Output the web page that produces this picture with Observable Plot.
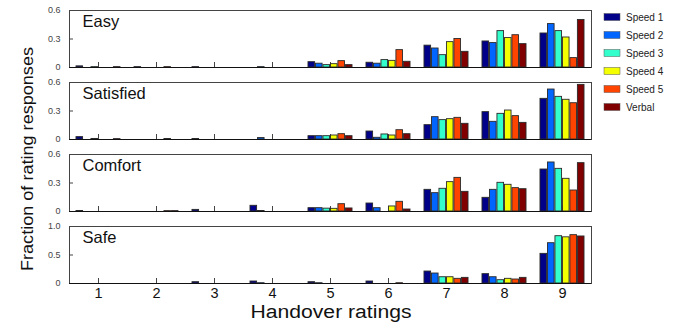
<!DOCTYPE html>
<html><head><meta charset="utf-8">
<script src="https://cdn.jsdelivr.net/npm/d3@7"></script>
<script src="https://cdn.jsdelivr.net/npm/@observablehq/plot@0.6"></script>
<style>
body{margin:0;background:#fff;}
#chart{position:relative;width:681px;height:326px;font-family:"Liberation Sans",Arial,sans-serif;overflow:hidden;}
#chart svg{position:absolute;left:0;}
</style></head><body><div id="chart"></div>
<script>
const ratings = [1, 2, 3, 4, 5, 6, 7, 8, 9];
const series = ["Speed 1", "Speed 2", "Speed 3", "Speed 4", "Speed 5", "Verbal"];
const colors = ["#000088", "#0066ff", "#33ffcc", "#f4ff00", "#ff4400", "#800000"];
const panelNames = ["Easy", "Satisfied", "Comfort", "Safe"];

// each row: one rating (1..9), values for Speed 1..5, Verbal
const easy = [
  [0.012, 0, 0.004, 0, 0, 0.004],
  [0.004, 0, 0, 0, 0.004, 0],
  [0.004, 0, 0, 0, 0, 0],
  [0, 0.004, 0, 0, 0, 0],
  [0.056, 0.04, 0.025, 0.035, 0.067, 0.025],
  [0.05, 0.04, 0.078, 0.07, 0.183, 0.06],
  [0.23, 0.2, 0.13, 0.267, 0.30, 0.165],
  [0.274, 0.257, 0.383, 0.31, 0.34, 0.246],
  [0.358, 0.457, 0.383, 0.316, 0.099, 0.50]
];
const satisfied = [
  [0.025, 0, 0.006, 0, 0, 0.004],
  [0, 0, 0, 0, 0.005, 0],
  [0.005, 0, 0, 0, 0, 0],
  [0, 0.015, 0, 0, 0, 0],
  [0.035, 0.035, 0.035, 0.042, 0.056, 0.035],
  [0.084, 0.018, 0.053, 0.042, 0.098, 0.056],
  [0.151, 0.235, 0.204, 0.214, 0.228, 0.165],
  [0.288, 0.186, 0.27, 0.305, 0.246, 0.175],
  [0.428, 0.526, 0.449, 0.418, 0.382, 0.575]
];
const comfort = [
  [0.005, 0, 0, 0, 0, 0],
  [0, 0, 0, 0, 0.004, 0.004],
  [0.017, 0, 0, 0, 0, 0],
  [0.06, 0.005, 0, 0, 0, 0],
  [0.035, 0.035, 0.03, 0.028, 0.077, 0.032],
  [0.084, 0.035, 0, 0.053, 0.102, 0.021],
  [0.228, 0.193, 0.239, 0.309, 0.354, 0.207],
  [0.144, 0.228, 0.302, 0.281, 0.246, 0.235],
  [0.442, 0.516, 0.449, 0.344, 0.221, 0.509]
];
const safe = [
  [0, 0, 0, 0, 0, 0],
  [0, 0, 0, 0, 0, 0],
  [0.023, 0, 0, 0, 0, 0],
  [0.035, 0.005, 0, 0, 0, 0],
  [0.023, 0.005, 0, 0, 0, 0],
  [0.035, 0, 0, 0, 0.005, 0],
  [0.21, 0.175, 0.11, 0.11, 0.082, 0.099],
  [0.164, 0.11, 0.058, 0.082, 0.07, 0.099],
  [0.52, 0.707, 0.83, 0.81, 0.848, 0.825]
];
const panelData = [easy, satisfied, comfort, safe];
const yMax = [0.6, 0.6, 0.6, 1.0];
const yTicks = [[0, 0.3, 0.6], [0, 0.3, 0.6], [0, 0.3, 0.6], [0, 0.5, 1.0]];
const yTickLabels = [["0", "0.3", "0.6"], ["0", "0.3", "0.6"], ["0", "0.3", "0.6"], ["0", "0.5", "1.0"]];
const xTitle = "Handover ratings";
const yTitle = "Fraction of rating responses";

const chart = document.getElementById("chart");
const panelH = 57, panelStep = 72, firstTop = 10;
const slot = 0.129, half = 0.057;

panelData.forEach((vals, p) => {
  const rows = [];
  vals.forEach((grp, gi) => grp.forEach((v, si) => {
    if (v > 0) rows.push({rating: ratings[gi], series: series[si], si, value: v});
  }));
  const last = p === panelData.length - 1;
  const mt = 2, mb = last ? 24 : 2;
  const fmt = d => yTickLabels[p][yTicks[p].indexOf(d)];
  const marks = [
    Plot.ruleX(ratings, {x: d => d, y1: 0, y2: yMax[p] * 5 / panelH, stroke: "#444"}),
    Plot.ruleY(yTicks[p], {y: d => d, x1: 0.5, x2: 0.5 + 4 / 58, stroke: "#444"}),
    Plot.rect(rows, {
      x1: d => d.rating + (d.si - 2.5) * slot - half,
      x2: d => d.rating + (d.si - 2.5) * slot + half,
      y1: 0, y2: "value", fill: "series", stroke: "#2a2a2a", strokeWidth: 0.9
    }),
    Plot.frame({stroke: "#444"}),
    Plot.ruleY([0], {stroke: "#111"}),
    Plot.axisY({ticks: yTicks[p], tickFormat: fmt, tickSize: 0, tickPadding: 9, fontSize: 9, fill: "#444", label: null}),
    Plot.text([panelNames[p]], {frameAnchor: "top-left", dx: 13, dy: 5, lineAnchor: "top", textAnchor: "start", fontSize: 16.5, fill: "#111"})
  ];
  if (last) marks.push(Plot.axisX({ticks: ratings, tickFormat: d => String(d), tickSize: 0, tickPadding: 4, fontSize: 14.5, fill: "#111", label: null}));
  const svg = Plot.plot({
    width: 681, height: panelH + mt + mb,
    marginLeft: 69, marginRight: 90, marginTop: mt, marginBottom: mb,
    style: {fontFamily: "'Liberation Sans', Arial, sans-serif", background: "transparent", overflow: "visible"},
    x: last ? {domain: [0.5, 9.5], label: null} : {domain: [0.5, 9.5], axis: null},
    y: {domain: [0, yMax[p]], label: null},
    color: {domain: series, range: colors},
    marks
  });
  svg.style.top = (firstTop + p * panelStep - mt) + "px";
  chart.appendChild(svg);
});

// overlay: axis titles and legend
const ov = d3.select(chart).append("svg")
  .attr("width", 681).attr("height", 326)
  .style("top", "0px").style("pointer-events", "none")
  .style("font-family", "'Liberation Sans', Arial, sans-serif");

ov.append("text").text(xTitle)
  .attr("x", 331).attr("y", 318).attr("text-anchor", "middle")
  .attr("font-size", 18).attr("fill", "#111")
  .attr("textLength", 161).attr("lengthAdjust", "spacingAndGlyphs");

ov.append("text").text(yTitle)
  .attr("transform", "translate(33,159) rotate(-90)").attr("text-anchor", "middle")
  .attr("font-size", 17).attr("fill", "#111")
  .attr("textLength", 224).attr("lengthAdjust", "spacingAndGlyphs");

const lg = ov.append("g");
series.forEach((s, i) => {
  const cy = 17 + i * 18;
  lg.append("rect").attr("x", 604).attr("y", cy - 3.5).attr("width", 16).attr("height", 7)
    .attr("fill", colors[i]).attr("stroke", "#555").attr("stroke-width", 0.5);
  lg.append("text").text(s).attr("x", 626).attr("y", cy).attr("dy", "0.35em")
    .attr("font-size", 10).attr("fill", "#222");
});
</script>
</body></html>
